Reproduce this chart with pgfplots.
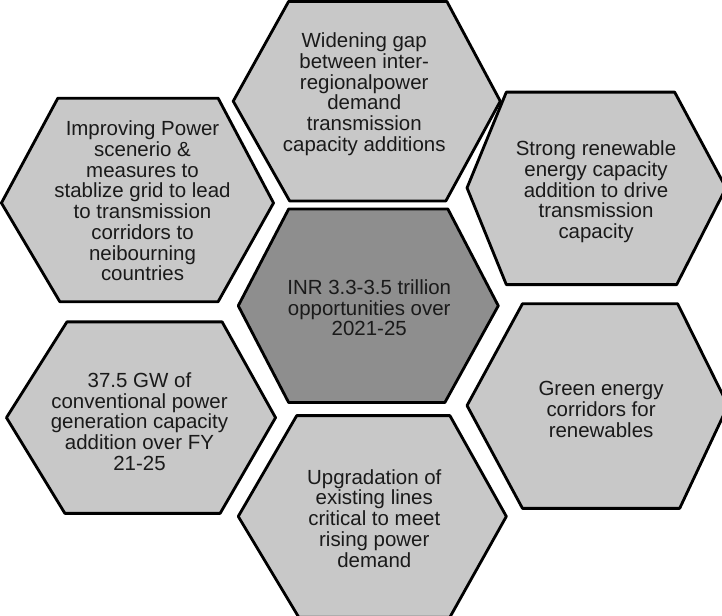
\documentclass[border=0pt]{standalone}
\usepackage{pgfplots}
\pgfplotsset{compat=1.18}
\usepackage{fontspec}
\setmainfont{Liberation Sans}
\definecolor{hexlight}{HTML}{C8C8C8}
\definecolor{hexdark}{HTML}{8E8E8E}
\definecolor{txt}{HTML}{1A1A1A}
\tikzset{hexlabel/.style={align=center, text=txt, font=\fontsize{20.3}{20.6}\selectfont, inner sep=0pt}}
\begin{document}
\begin{tikzpicture}
\begin{axis}[
  scale only axis, width=722pt, height=621pt,
  xmin=0, xmax=722, ymin=0, ymax=621, y dir=reverse,
  axis lines=none, ticks=none, clip=true,
  every axis plot/.append style={draw=black, line width=2.8pt, line join=round},
]
% Top: Widening gap
\addplot[fill=hexlight] coordinates {(292,12) (449,12) (502,111) (448,210) (293,210) (237,111)} -- cycle;
% Left top: Improving Power
\addplot[fill=hexlight] coordinates {(63,108) (222,108) (277,212) (222,310) (65,310) (7,212)} -- cycle;
% Right top: Strong renewable
\addplot[fill=hexlight] coordinates {(508,102) (675,102) (726,197) (677,293) (508,293) (469,197)} -- cycle;
% Centre
\addplot[fill=hexdark] coordinates {(292,218) (450,218) (500,314) (447,410) (292,410) (242,314)} -- cycle;
% Left bottom: 37.5 GW
\addplot[fill=hexlight] coordinates {(72,330) (226,330) (279,425) (224,520) (70,520) (12,425)} -- cycle;
% Bottom: Upgradation
\addplot[fill=hexlight] coordinates {(300,423) (452,423) (508,523) (452,623) (302,623) (242,523)} -- cycle;
% Right bottom: Green energy
\addplot[fill=hexlight] coordinates {(524,312) (678,312) (728,413) (680,515) (524,515) (469,413)} -- cycle;

\node[hexlabel] at (axis cs:367,104) {Widening gap\\between inter-\\regionalpower\\demand\\transmission\\capacity additions};
\node[hexlabel] at (axis cs:147,210) {Improving Power\\scenerio \&\\measures to\\stablize grid to lead\\to transmission\\corridors to\\neibourning\\countries};
\node[hexlabel] at (axis cs:597,201) {Strong renewable\\energy capacity\\addition to drive\\transmission\\capacity};
\node[hexlabel] at (axis cs:372,316) {INR 3.3-3.5 trillion\\opportunities over\\2021-25};
\node[hexlabel] at (axis cs:144,429) {37.5 GW of\\conventional power\\generation capacity\\addition over FY\\21-25};
\node[hexlabel] at (axis cs:377,525) {Upgradation of\\existing lines\\critical to meet\\rising power\\demand};
\node[hexlabel] at (axis cs:602,417) {Green energy\\corridors for\\renewables};
\end{axis}
\end{tikzpicture}
\end{document}
